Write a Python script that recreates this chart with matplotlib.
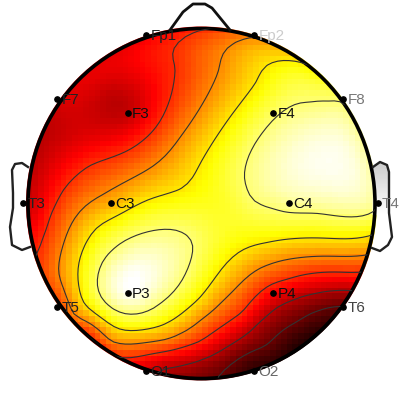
import numpy as np
import matplotlib
matplotlib.use('Agg')
import matplotlib.pyplot as plt
from matplotlib.patches import Ellipse, Polygon

plt.rcParams['font.family'] = ['Liberation Sans', 'DejaVu Sans']

# electrodes, read in picture pixels
channels = ['Fp1', 'Fp2', 'F7', 'F3', 'F4', 'F8', 'T3', 'C3', 'C4', 'T4', 'T5', 'P3', 'P4', 'T6', 'O1', 'O2']
chan_x = [146, 254, 57, 127.5, 273, 343, 23, 111, 289, 377.5, 57, 127.5, 273, 343, 146, 254]
chan_y = [35, 35, 99, 113, 113, 99, 203, 203, 203, 203, 307, 293, 293, 307, 371, 371]
values = [0.34, 0.57, 0.31, 0.27, 0.84, 0.857, 0.27, 0.62, 0.90, 0.87, 0.43, 1.00, 0.36, 0.13, 0.29, 0.05]
label_colors = ['#222222', '#cccccc', '#222222', '#111111', '#111111', '#777777', '#222222', '#111111', '#111111', '#777777',
                '#222222', '#111111', '#111111', '#444444', '#222222', '#666666']

# contour levels and where each line runs in the picture
levels = [0.143, 0.26, 0.43, 0.57, 0.71, 0.857]
line_143 = [(345, 308), (297, 323), (267, 347), (220, 375)]
line_260 = [(350, 290), (300, 297), (277, 307), (257, 323), (200, 360), (167, 367)]
line_430 = [(193, 32), (177, 67), (167, 107), (143, 140), (90, 165), (63, 190), (50, 215), (39, 250), (87, 333), (127, 358),
            (200, 342), (243, 313), (263, 290), (287, 280), (350, 273)]
line_570 = [(255, 39), (220, 70), (200, 108), (180, 137), (147, 170), (110, 190), (58, 272), (72, 315), (110, 343),
            (167, 340), (200, 320), (223, 300), (260, 268), (283, 260), (367, 255)]
line_710 = [(302, 62), (257, 83), (230, 117), (200, 163), (180, 190), (147, 200), (97, 227), (78, 275), (83, 303),
            (117, 328), (157, 327), (200, 298), (223, 267), (243, 250), (267, 243), (367, 236)]
line_857a = [(343, 104), (330, 104), (310, 104), (273, 120), (253, 147), (244, 177), (252, 200), (273, 208), (317, 213), (373, 213)]
line_857b = [(98, 275), (110, 307), (133, 314), (160, 303), (187, 270), (193, 243), (177, 230), (147, 232), (113, 250)]
level_lines = [line_143, line_260, line_430, line_570, line_710, line_857a, line_857b]
line_values = [0.143, 0.26, 0.43, 0.57, 0.71, 0.857, 0.857]

# extra readings away from the lines
extra_x = [130, 335, 110, 60, 310, 330, 35, 100, 225, 200, 95, 75]
extra_y = [288, 170, 95, 130, 355, 335, 215, 355, 205, 375, 60, 78]
extra_v = [1.0, 0.98, 0.27, 0.28, 0.0, 0.04, 0.33, 0.34, 0.78, 0.18, 0.33, 0.33]

# outline of nose and ears
nose_x = [170, 183, 193, 205, 212, 230]
nose_y = [30, 12, 4, 4, 8, 30]
ear_l_x = [28, 22, 15, 12, 13, 13, 10, 12, 22, 30]
ear_l_y = [167, 163, 164, 170, 193, 208, 227, 245, 250, 247]
ear_r_x = [373, 380, 387, 389, 389, 392, 388, 380, 372]
ear_r_y = [167, 162, 165, 172, 213, 237, 245, 251, 248]


def biharmonic(x, y, v, gx, gy):
    # smooth spline through the readings, distances scaled by the head radius
    x, y, v = np.array(x, float) / 176, np.array(y, float) / 176, np.array(v, float)
    d = np.hypot(x[:, None] - x[None, :], y[:, None] - y[None, :])
    g = np.zeros_like(d)
    g[d > 0] = d[d > 0] ** 2 * (np.log(d[d > 0]) - 1)
    w = np.linalg.solve(g + 6e-3 * np.eye(len(x)), v)
    dg = np.hypot(gx[..., None] / 176 - x, gy[..., None] / 176 - y)
    dg[dg == 0] = 1e-9
    return (dg ** 2 * (np.log(dg) - 1) * w).sum(axis=-1)


all_x = list(chan_x) + extra_x
all_y = list(chan_y) + extra_y
all_v = list(values) + extra_v
for line, val in zip(level_lines, line_values):
    all_x += [p[0] for p in line]
    all_y += [p[1] for p in line]
    all_v += [val] * len(line)

fig = plt.figure(figsize=(4, 4), dpi=100)
ax = fig.add_axes([0, 0, 1, 1])

cx, cy = 201.5, 203.5
gx, gy = np.meshgrid(np.linspace(cx - 178, cx + 178, 64), np.linspace(cy - 178, cy + 178, 64))
zi = biharmonic(all_x, all_y, all_v, gx, gy)

clip = Ellipse((cx, cy), 2 * 175.5, 2 * 177, transform=ax.transData)
im = ax.imshow(zi, cmap='hot', vmin=0, vmax=1, origin='upper', interpolation='nearest',
               extent=[cx - 180.8, cx + 180.8, cy + 180.8, cy - 180.8])
im.set_clip_path(clip)
cs = ax.contour(gx, gy, zi, levels=levels, colors='#333333', linewidths=0.8)
cs.set_clip_path(Ellipse((cx, cy), 2 * 173.5, 2 * 175, transform=ax.transData))

ax.add_patch(Ellipse((cx, cy), 2 * 173.5, 2 * 175, fill=False, ec='black', lw=2.6))
ax.plot(nose_x, nose_y, color='#111111', lw=2, solid_joinstyle='round')

# right ear has a light grey shade at its top
shade = ax.imshow(np.linspace(0.8, 1, 32)[:, None], cmap='gray', vmin=0, vmax=1, aspect='auto',
                  extent=[370, 392, 215, 162], zorder=0)
shade.set_clip_path(Polygon(np.column_stack([ear_r_x, ear_r_y]), transform=ax.transData))
ax.plot(ear_l_x, ear_l_y, color='#222222', lw=1.7, zorder=1)
ax.plot(ear_r_x, ear_r_y, color='#222222', lw=1.7, zorder=1)

ax.plot(chan_x, chan_y, 'o', color='black', ms=3.8, clip_on=False)
for name, x, y, c in zip(channels, chan_x, chan_y, label_colors):
    ax.text(x + 4.5, y + 1, name, color=c, fontsize=11, va='center', ha='left', clip_on=True)

ax.set_xlim(0, 400)
ax.set_ylim(400, 0)
ax.axis('off')
fig.savefig('out.png', dpi=100)
